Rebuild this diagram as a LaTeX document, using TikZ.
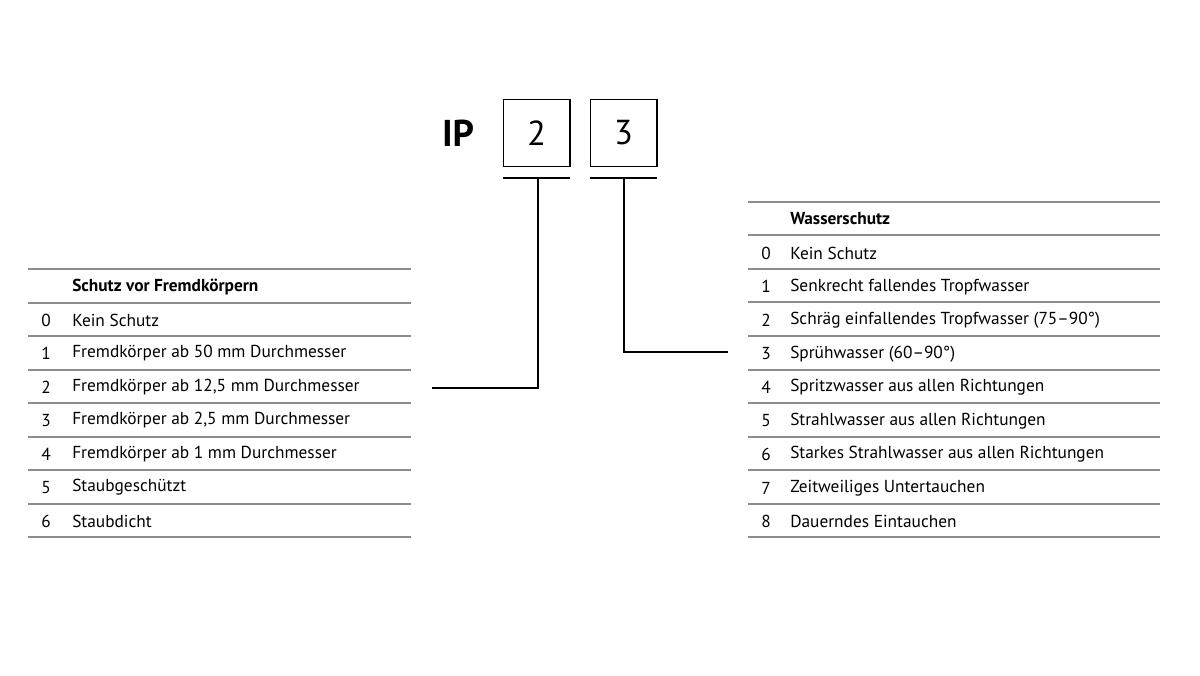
\documentclass[tikz,border=0pt]{standalone}
\usepackage{fontspec}
\setmainfont{PT Sans}
\begin{document}
\begin{tikzpicture}[x=0.75pt,y=-0.75pt,
  rule/.style={draw=black!45,line width=0.9pt},
  conn/.style={draw=black,line width=0.8pt},
  digit/.style={draw=black,line width=1pt,minimum width=50pt,minimum height=50pt,inner sep=0pt,font=\fontsize{26}{28}\selectfont},
  txt/.style={anchor=west,inner sep=0pt,font=\fontsize{13}{15}\selectfont},
  hd/.style={txt,font=\fontsize{13}{15}\selectfont\bfseries}]
\useasboundingbox (0,0) rectangle (1200,675);
\node[inner sep=0pt,font=\fontsize{28}{30}\selectfont\bfseries] (ip) at (458,133) {IP};
\node[digit] (b2) at (536.5,133) {2};
\node[digit] (b3) at (623.5,133) {3};
\coordinate (u2l) at (503,178); \coordinate (u2r) at (570,178);
\coordinate (u3l) at (590,178); \coordinate (u3r) at (657,178);
\draw[conn] (u2l) -- (u2r); \draw[conn] (u3l) -- (u3r);
\coordinate (u2m) at (538,178); \coordinate (e2) at (432,388);
\coordinate (u3m) at (624,178); \coordinate (e3) at (728,352);
\draw[conn] (u2m) |- (e2);
\draw[conn] (u3m) |- (e3);
% left table
\foreach \y in {269,303,336,370,403,437,470,504,537} \draw[rule] (28,\y) -- (411,\y);
\node[hd] (lh) at (72,287) {Schutz vor Fremdkörpern};
\foreach \n/\t [count=\i from 0] in {0/Kein Schutz,1/Fremdkörper ab 50 mm Durchmesser,2/{Fremdkörper ab 12,5 mm Durchmesser},3/{Fremdkörper ab 2,5 mm Durchmesser},4/Fremdkörper ab 1 mm Durchmesser,5/Staubgeschützt,6/Staubdicht}{
  \node[txt] (ln\i) at (41,320+33.5*\i) {\n};
  \node[txt] (lt\i) at (72,320+33.5*\i) {\t};}
% right table
\foreach \y in {202,235,269,302,336,370,403,437,470,504,537} \draw[rule] (748,\y) -- (1160,\y);
\node[hd] (rh) at (790,219) {Wasserschutz};
\foreach \n/\t [count=\i from 0] in {0/Kein Schutz,1/Senkrecht fallendes Tropfwasser,2/Schräg einfallendes Tropfwasser (75–90°),3/Sprühwasser (60–90°),4/Spritzwasser aus allen Richtungen,5/Strahlwasser aus allen Richtungen,6/Starkes Strahlwasser aus allen Richtungen,7/Zeitweiliges Untertauchen,8/Dauerndes Eintauchen}{
  \node[txt] (rn\i) at (761,253+33.6*\i) {\n};
  \node[txt] (rt\i) at (790,253+33.6*\i) {\t};}
\end{tikzpicture}
\end{document}
